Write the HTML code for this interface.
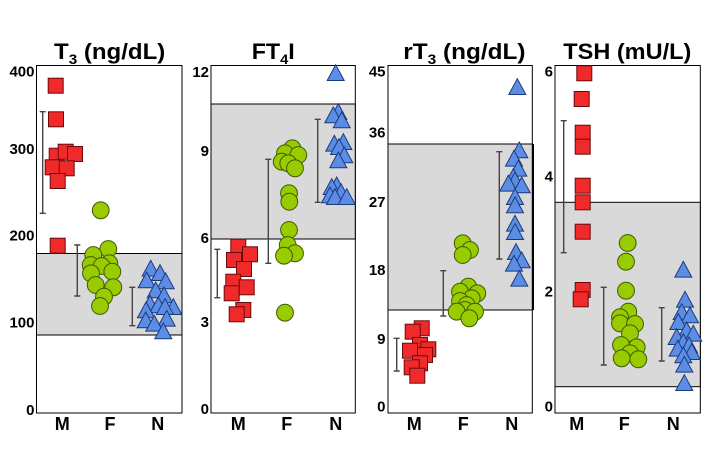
<!DOCTYPE html>
<html><head><meta charset="utf-8"><style>
html,body{margin:0;padding:0;background:#fff;}
svg{display:block;}
text{font-family:"Liberation Sans",Arial,sans-serif;font-weight:bold;fill:#000;}
.sq{fill:#f02a2a;stroke:#6b0a0a;stroke-width:1;}
.ci{fill:#99cc00;stroke:#3f5a00;stroke-width:1;}
.tr{fill:#5b8de6;stroke:#1c3a7a;stroke-width:1;}
.eb{stroke:#444;stroke-width:1.4;fill:none;}
.tk{font-size:15px;text-anchor:end;}
.cat{font-size:18px;text-anchor:middle;}
</style></head><body>
<svg width="712" height="473" viewBox="0 0 712 473" xmlns="http://www.w3.org/2000/svg">
<defs>
<polygon id="t" points="0,-8 -8.5,7.8 8.5,7.8"/>
<rect id="s" x="-7.5" y="-7.5" width="15" height="15"/>
</defs>

<!-- Titles -->
<g transform="translate(54,59) scale(1.093,1)"><text font-size="22">T<tspan font-size="14" dy="5">3</tspan><tspan dy="-5"> (ng/dL)</tspan></text></g>
<g transform="translate(251.7,59) scale(1.056,1)"><text font-size="22">FT<tspan font-size="14" dy="5">4</tspan><tspan dy="-5">I</tspan></text></g>
<g transform="translate(403.3,59) scale(1.107,1)"><text font-size="22">rT<tspan font-size="14" dy="5">3</tspan><tspan dy="-5"> (ng/dL)</tspan></text></g>
<g transform="translate(563.3,59) scale(1.069,1)"><text font-size="22">TSH (mU/L)</text></g>

<!-- Panel 1 -->
<rect x="36.5" y="65.5" width="145.5" height="347.5" fill="#fff" stroke="#000" stroke-width="1"/>
<rect x="36.5" y="253.5" width="145.5" height="81.5" fill="#d9d9d9" stroke="#000" stroke-width="1"/>
<text class="tk" x="34.5" y="76.5">400</text>
<text class="tk" x="34.5" y="154">300</text>
<text class="tk" x="34.5" y="240.5">200</text>
<text class="tk" x="34.5" y="327.5">100</text>
<text class="tk" x="34.5" y="415">0</text>
<path class="eb" d="M42.7 111.7V213.3M39.7 111.7h6M39.7 213.3h6M77.3 245V296M74.3 245h6M74.3 296h6M132.3 287.3V325.7M129.3 287.3h6M129.3 325.7h6" stroke="#333"/>
<g class="sq">
<use href="#s" x="55.7" y="85.7"/><use href="#s" x="56" y="119.3"/><use href="#s" x="56.7" y="155.7"/><use href="#s" x="65.7" y="151.7"/><use href="#s" x="75" y="154"/><use href="#s" x="52.7" y="167.3"/><use href="#s" x="66.7" y="168.3"/><use href="#s" x="57.7" y="181"/><use href="#s" x="57.7" y="245.7"/>
</g>
<g class="ci">
<circle cx="100.7" cy="210.3" r="8.4"/><circle cx="108.3" cy="249" r="8.4"/><circle cx="93.3" cy="255" r="8.4"/><circle cx="109.3" cy="263.3" r="8.4"/><circle cx="90.7" cy="265" r="8.4"/><circle cx="101.7" cy="266" r="8.4"/><circle cx="91" cy="273.3" r="8.4"/><circle cx="112.3" cy="271.7" r="8.4"/><circle cx="95.7" cy="285" r="8.4"/><circle cx="113.3" cy="287.3" r="8.4"/><circle cx="104" cy="296.7" r="8.4"/><circle cx="100" cy="306" r="8.4"/>
</g>
<g class="tr">
<use href="#t" x="150.7" y="268.3"/><use href="#t" x="160" y="272.7"/><use href="#t" x="146.7" y="280"/><use href="#t" x="165.7" y="281"/><use href="#t" x="155.7" y="290"/><use href="#t" x="164" y="295"/><use href="#t" x="150" y="303.3"/><use href="#t" x="158.3" y="305"/><use href="#t" x="173.3" y="306.7"/><use href="#t" x="165" y="306.7"/><use href="#t" x="146" y="310"/><use href="#t" x="166.7" y="318.3"/><use href="#t" x="145.7" y="320"/><use href="#t" x="154.3" y="323.3"/><use href="#t" x="163.3" y="331"/>
</g>
<text class="cat" x="62.3" y="430">M</text><text class="cat" x="110" y="430">F</text><text class="cat" x="157.7" y="430">N</text>

<!-- Panel 2 -->
<rect x="211" y="65.5" width="144.3" height="347.5" fill="#fff" stroke="#000" stroke-width="1"/>
<rect x="211" y="104" width="144.3" height="135" fill="#d9d9d9" stroke="#000" stroke-width="1"/>
<text class="tk" x="209" y="77">12</text>
<text class="tk" x="209" y="156">9</text>
<text class="tk" x="209" y="243">6</text>
<text class="tk" x="209" y="327">3</text>
<text class="tk" x="209" y="414">0</text>
<path class="eb" d="M217.3 249.3V297.7M214.3 249.3h6M214.3 297.7h6M317.7 119.3V202.3M314.7 119.3h6M314.7 202.3h6"/>
<path class="eb" d="M268.3 159.3V263.3M265.3 159.3h6M265.3 263.3h6" stroke="#666" stroke-width="2"/>
<g class="sq">
<use href="#s" x="238.3" y="246.7"/><use href="#s" x="250" y="254.3"/><use href="#s" x="234" y="260"/><use href="#s" x="244" y="269"/><use href="#s" x="233.3" y="281.7"/><use href="#s" x="246.7" y="287.3"/><use href="#s" x="231.7" y="293.3"/><use href="#s" x="243.3" y="310"/><use href="#s" x="236.7" y="314.3"/>
</g>
<g class="ci">
<circle cx="292.3" cy="148.3" r="8.4"/><circle cx="285" cy="153.3" r="8.4"/><circle cx="298.3" cy="155" r="8.4"/><circle cx="281.7" cy="161.7" r="8.4"/><circle cx="288.3" cy="163.3" r="8.4"/><circle cx="295" cy="168.3" r="8.4"/><circle cx="289" cy="193.3" r="8.4"/><circle cx="289.3" cy="201.7" r="8.4"/><circle cx="289" cy="230" r="8.4"/><circle cx="287.7" cy="245" r="8.4"/><circle cx="295" cy="253.3" r="8.4"/><circle cx="284" cy="255.7" r="8.4"/><circle cx="285" cy="312.7" r="8.4"/>
</g>
<g class="tr">
<use href="#t" x="335.7" y="72.7"/><use href="#t" x="338.3" y="111.7"/><use href="#t" x="333.3" y="115"/><use href="#t" x="341.7" y="120"/><use href="#t" x="343.3" y="141.7"/><use href="#t" x="334.3" y="143.3"/><use href="#t" x="339" y="146.7"/><use href="#t" x="344.3" y="155"/><use href="#t" x="338.3" y="160"/><use href="#t" x="336.7" y="185"/><use href="#t" x="331.7" y="186.7"/><use href="#t" x="341" y="191.7"/><use href="#t" x="330" y="195"/><use href="#t" x="335" y="196.7"/><use href="#t" x="346.7" y="196.7"/>
</g>
<text class="cat" x="238.3" y="430">M</text><text class="cat" x="286.7" y="430">F</text><text class="cat" x="335.7" y="430">N</text>

<!-- Panel 3 -->
<rect x="388" y="65.5" width="144.3" height="347.5" fill="#fff" stroke="#000" stroke-width="1"/>
<rect x="388" y="144" width="144.3" height="166" fill="#d9d9d9" stroke="#000" stroke-width="1"/>
<line x1="533" y1="144" x2="533" y2="310" stroke="#000" stroke-width="2"/>
<text class="tk" x="385.5" y="76.5">45</text>
<text class="tk" x="385.5" y="137.5">36</text>
<text class="tk" x="385.5" y="207">27</text>
<text class="tk" x="385.5" y="275">18</text>
<text class="tk" x="385.5" y="344">9</text>
<text class="tk" x="385.5" y="411.5">0</text>
<path class="eb" d="M396.7 338.3V371M393.7 338.3h6M393.7 371h6"/>
<path class="eb" d="M443.3 270.7V316M440.3 270.7h6M440.3 316h6M499.3 151.7V259M496.3 151.7h6M496.3 259h6" stroke="#666" stroke-width="2"/>
<g class="sq">
<use href="#s" x="421.7" y="328.3"/><use href="#s" x="412.7" y="331.7"/><use href="#s" x="420" y="345"/><use href="#s" x="428.3" y="349.3"/><use href="#s" x="410" y="350.7"/><use href="#s" x="425" y="355"/><use href="#s" x="420" y="363.3"/><use href="#s" x="411.7" y="367.3"/><use href="#s" x="417.3" y="375.7"/>
</g>
<g class="ci">
<circle cx="462.7" cy="243.3" r="8.4"/><circle cx="470" cy="250" r="8.4"/><circle cx="462.7" cy="255" r="8.4"/><circle cx="468.3" cy="286.7" r="8.4"/><circle cx="460" cy="291.7" r="8.4"/><circle cx="477.3" cy="293.3" r="8.4"/><circle cx="471.7" cy="298.3" r="8.4"/><circle cx="460" cy="301" r="8.4"/><circle cx="466.7" cy="305" r="8.4"/><circle cx="465" cy="310" r="8.4"/><circle cx="475" cy="311.7" r="8.4"/><circle cx="456.7" cy="311.7" r="8.4"/><circle cx="469.3" cy="318.3" r="8.4"/>
</g>
<g class="tr">
<use href="#t" x="517.3" y="86.7"/><use href="#t" x="519.3" y="150"/><use href="#t" x="514" y="158.3"/><use href="#t" x="518.3" y="168.3"/><use href="#t" x="513.3" y="176.7"/><use href="#t" x="515" y="180"/><use href="#t" x="508.3" y="183.3"/><use href="#t" x="521.7" y="185"/><use href="#t" x="515" y="196.7"/><use href="#t" x="515" y="205"/><use href="#t" x="515" y="223.3"/><use href="#t" x="515" y="231.7"/><use href="#t" x="516" y="251.7"/><use href="#t" x="521.7" y="260"/><use href="#t" x="514" y="263.3"/><use href="#t" x="519.3" y="278.3"/>
</g>
<text class="cat" x="414.3" y="430">M</text><text class="cat" x="463.3" y="430">F</text><text class="cat" x="511.7" y="430">N</text>

<!-- Panel 4 -->
<rect x="555" y="65.5" width="145.3" height="347.5" fill="#fff" stroke="#000" stroke-width="1"/>
<rect x="555" y="202.3" width="145.3" height="184.4" fill="#d9d9d9" stroke="#000" stroke-width="1"/>
<text class="tk" x="553" y="76.5">6</text>
<text class="tk" x="553" y="181.5">4</text>
<text class="tk" x="553" y="296.7">2</text>
<text class="tk" x="553" y="411.5">0</text>
<path class="eb" d="M563.7 120.7V252.7M560.7 120.7h6M560.7 252.7h6M603.7 287.3V365M600.7 287.3h6M600.7 365h6M661.7 307.7V361M658.7 307.7h6M658.7 361h6"/>
<g class="sq">
<use href="#s" x="584.3" y="73.3"/><use href="#s" x="581.7" y="99"/><use href="#s" x="582.7" y="132.7"/><use href="#s" x="582.7" y="146.7"/><use href="#s" x="582.7" y="185.7"/><use href="#s" x="582.7" y="202.3"/><use href="#s" x="582.7" y="231.7"/><use href="#s" x="582.7" y="290"/><use href="#s" x="580.7" y="299.3"/>
</g>
<g class="ci">
<circle cx="627.7" cy="243" r="8.4"/><circle cx="626" cy="261.7" r="8.4"/><circle cx="626" cy="290.7" r="8.4"/><circle cx="628.3" cy="311.7" r="8.4"/><circle cx="620" cy="317.3" r="8.4"/><circle cx="620" cy="323.3" r="8.4"/><circle cx="635" cy="324" r="8.4"/><circle cx="630" cy="333.3" r="8.4"/><circle cx="621" cy="345" r="8.4"/><circle cx="636.7" cy="347.3" r="8.4"/><circle cx="630" cy="353.3" r="8.4"/><circle cx="621.7" cy="358.3" r="8.4"/><circle cx="638.3" cy="359.3" r="8.4"/>
</g>
<g class="tr">
<use href="#t" x="683.3" y="269.3"/><use href="#t" x="685" y="299.3"/><use href="#t" x="681.7" y="311.7"/><use href="#t" x="690" y="315"/><use href="#t" x="678.3" y="321.7"/><use href="#t" x="686.7" y="330"/><use href="#t" x="693.3" y="333.3"/><use href="#t" x="676.7" y="336.7"/><use href="#t" x="683.3" y="341.7"/><use href="#t" x="689" y="345"/><use href="#t" x="677.7" y="348.3"/><use href="#t" x="691.7" y="351.7"/><use href="#t" x="683.3" y="355"/><use href="#t" x="684.3" y="364.3"/><use href="#t" x="684.3" y="382.7"/>
</g>
<text class="cat" x="576.7" y="430">M</text><text class="cat" x="624.3" y="430">F</text><text class="cat" x="673.3" y="430">N</text>
</svg>
</body></html>
